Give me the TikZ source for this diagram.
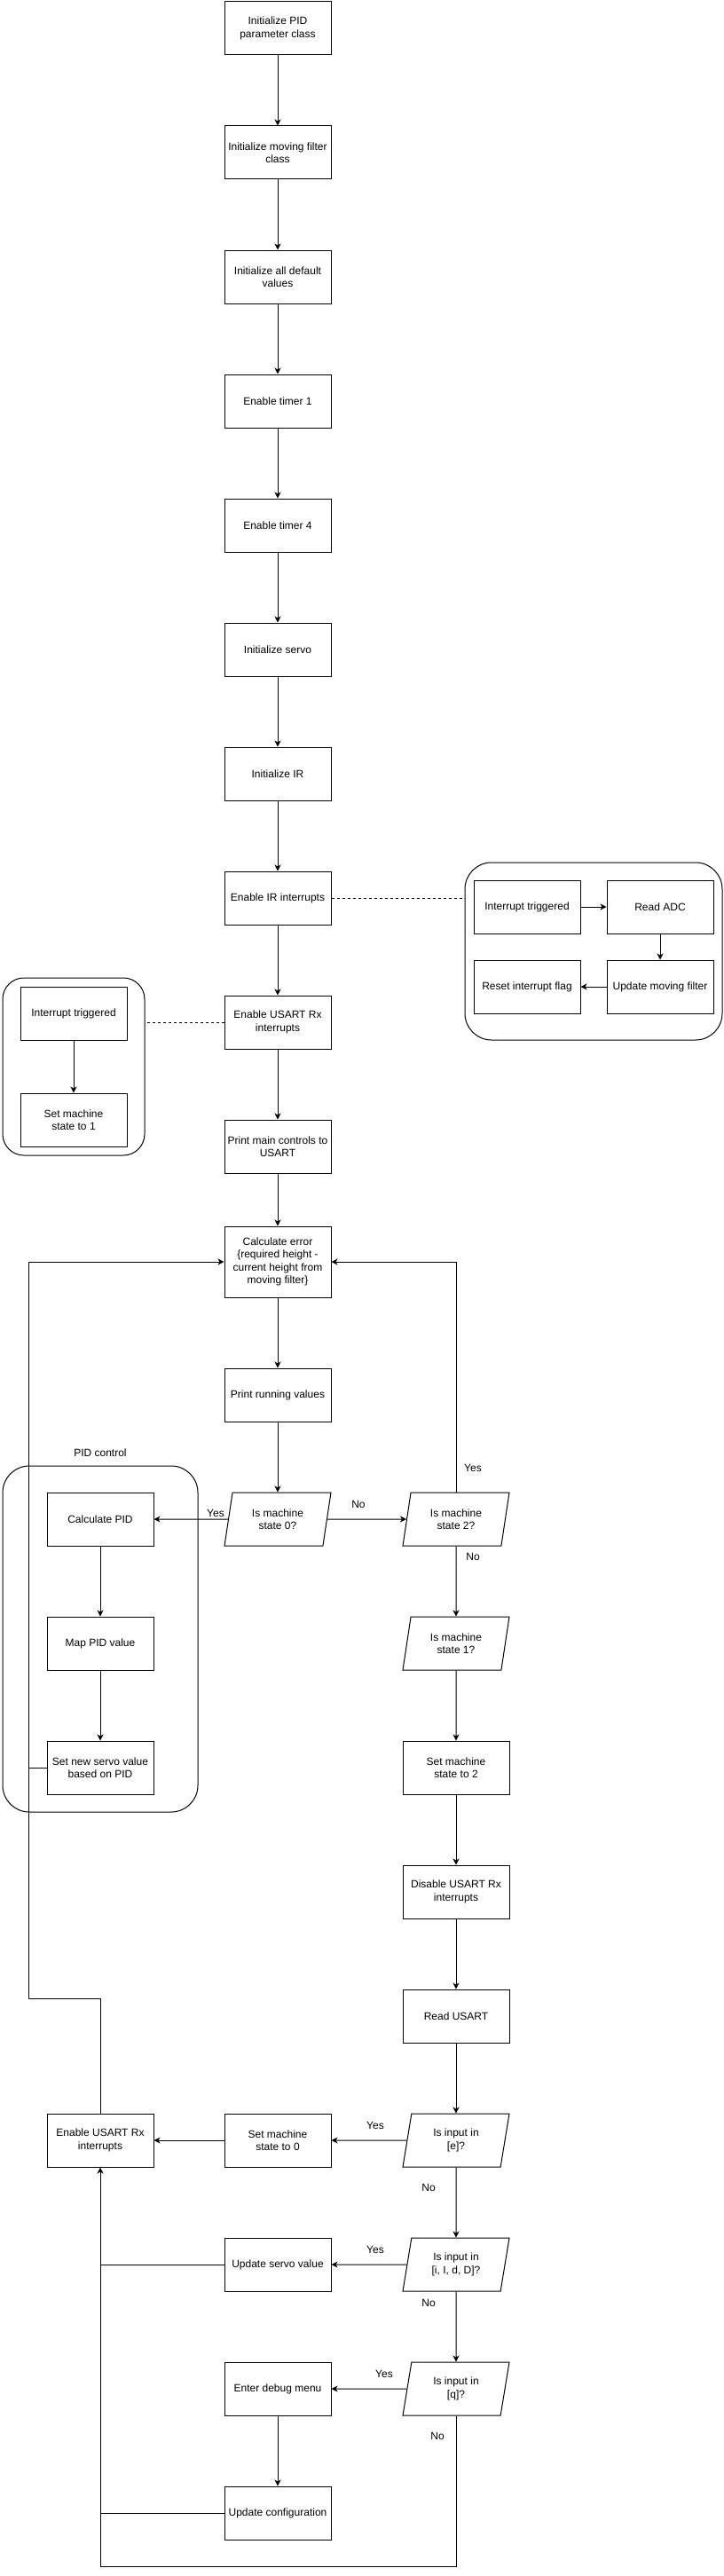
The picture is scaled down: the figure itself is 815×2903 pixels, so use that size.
\documentclass[tikz,border=0pt]{standalone}
\usepackage{fontspec}
\setmainfont{Liberation Sans}
\usetikzlibrary{arrows.meta, shapes.geometric}

\begin{document}
\begin{tikzpicture}[
    x=1pt, y=-1pt, line width=1pt,
    proc/.style={draw, minimum width=120pt, minimum height=60pt, inner sep=2pt,
                 align=center, font=\fontsize{12}{14.4}\selectfont},
    decision/.style={proc, trapezium, trapezium left angle=71.57,
                     trapezium right angle=108.43, trapezium stretches body},
    group/.style={draw, rounded corners=#1, inner sep=0pt},
    tag/.style={font=\fontsize{12}{14.4}\selectfont, inner sep=0pt},
    flow/.style={->},
    link/.style={dash pattern=on 3pt off 3pt},
    >={Stealth[length=7pt, width=7pt, inset=2pt]}
  ]
  \useasboundingbox (0,0) rectangle (815,2903);

  % Set-up sequence
  \node[proc] (initpid)  at (313, 32)   {Initialize PID\\parameter class};
  \node[proc] (initflt)  at (313, 172)  {Initialize moving filter\\class};
  \node[proc] (initdef)  at (313, 312)  {Initialize all default\\values};
  \node[proc] (timer1)   at (313, 452)  {Enable timer 1};
  \node[proc] (timer4)   at (313, 592)  {Enable timer 4};
  \node[proc] (initsrv)  at (313, 732)  {Initialize servo};
  \node[proc] (initir)   at (313, 872)  {Initialize IR};
  \node[proc] (irint)    at (313, 1012) {Enable IR interrupts};
  \node[proc] (rxint)    at (313, 1152) {Enable USART Rx\\interrupts};
  \node[proc] (printctl) at (313, 1292) {Print main controls to\\USART};

  % Main loop
  \node[proc, minimum height=80pt] (calcerr) at (313, 1422)
    {Calculate error\\\{required height -\\current height from\\moving filter\}};
  \node[proc] (printrun) at (313, 1572) {Print running values};
  \node[decision] (state0) at (313, 1712) {Is machine\\state 0?};
  \node[decision] (state2) at (514, 1712) {Is machine\\state 2?};
  \node[decision] (state1) at (514, 1852) {Is machine\\state 1?};
  \node[proc] (setstate2) at (514, 1992) {Set machine\\state to 2};
  \node[proc] (rxoff)     at (514, 2132) {Disable USART Rx\\interrupts};
  \node[proc] (readrx)    at (514, 2272) {Read USART};
  \node[decision] (inE)   at (514, 2412) {Is input in\\{}[e]?};
  \node[decision] (inPID) at (514, 2552) {Is input in\\{}[i, I, d, D]?};
  \node[decision] (inQ)   at (514, 2692) {Is input in\\{}[q]?};
  \node[proc] (setstate0) at (313, 2412) {Set machine\\state to 0};
  \node[proc] (updsrv)    at (313, 2552) {Update servo value};
  \node[proc] (debug)     at (313, 2692) {Enter debug menu};
  \node[proc] (updcfg)    at (313, 2832) {Update configuration};
  \node[proc] (rxon)      at (113, 2412) {Enable USART Rx\\interrupts};

  % PID control group
  \node[group=30pt, minimum width=220pt, minimum height=390pt] (pidbox) at (113, 1847) {};
  \node[tag] (pidtitle) at (113, 1637) {PID control};
  \node[proc] (calcpid) at (113, 1712) {Calculate PID};
  \node[proc] (mappid)  at (113, 1852) {Map PID value};
  \node[proc] (setsrv)  at (113, 1992) {Set new servo value\\based on PID};

  % IR interrupt routine
  \node[group=30pt, minimum width=290pt, minimum height=200pt] (irisr) at (669, 1072) {};
  \node[proc] (irtrig)  at (594, 1022) {Interrupt triggered};
  \node[proc] (readadc) at (744, 1022) {Read ADC};
  \node[proc] (resflag) at (594, 1112) {Reset interrupt flag};
  \node[proc] (updflt)  at (744, 1112) {Update moving filter};

  % USART interrupt routine
  \node[group=24pt, minimum width=160pt, minimum height=200pt] (rxisr) at (83, 1202) {};
  \node[proc] (rxtrig) at (83, 1142) {Interrupt triggered};
  \node[proc] (setone) at (83, 1262) {Set machine\\state to 1};

  % Connectors
  \draw[flow] (initpid) -- (initflt);
  \draw[flow] (initflt) -- (initdef);
  \draw[flow] (initdef) -- (timer1);
  \draw[flow] (timer1) -- (timer4);
  \draw[flow] (timer4) -- (initsrv);
  \draw[flow] (initsrv) -- (initir);
  \draw[flow] (initir) -- (irint);
  \draw[flow] (irint) -- (rxint);
  \draw[flow] (rxint) -- (printctl);
  \draw[flow] (printctl) -- (calcerr);
  \draw[flow] (calcerr) -- (printrun);
  \draw[flow] (printrun) -- (state0);
  \draw[flow] (state0) -- (calcpid);
  \draw[flow] (state0) -- (state2);
  \draw[flow] (state2.north) |- (calcerr.east);
  \draw[flow] (state2) -- (state1);
  \draw[flow] (state1) -- (setstate2);
  \draw[flow] (setstate2) -- (rxoff);
  \draw[flow] (rxoff) -- (readrx);
  \draw[flow] (readrx) -- (inE);
  \draw[flow] (inE) -- (setstate0);
  \draw[flow] (setstate0) -- (rxon);
  \draw[flow] (inE) -- (inPID);
  \draw[flow] (inPID) -- (updsrv);
  \draw[flow] (inPID) -- (inQ);
  \draw[flow] (inQ) -- (debug);
  \draw[flow] (debug) -- (updcfg);
  \draw[flow] (calcpid) -- (mappid);
  \draw[flow] (mappid) -- (setsrv);

  % Return paths
  \coordinate (backleft) at (32, 2252);
  \coordinate (backlow)  at (113, 2892);
  \draw[flow] (rxon.north) |- (backleft) |- (calcerr.west);
  \draw (setsrv.west) -- (setsrv.west -| backleft);
  \draw[flow] (inQ.south) |- (backlow) -- (rxon.south);
  \draw (updsrv.west) -- (updsrv.west -| backlow);
  \draw (updcfg.west) -- (updcfg.west -| backlow);

  % Interrupt routines
  \draw[flow] (irtrig) -- (readadc);
  \draw[flow] (readadc) -- (updflt);
  \draw[flow] (updflt) -- (resflag);
  \draw[flow] (rxtrig) -- (setone);
  \draw[link] (irint.east) -- (irint.east -| irisr.west);
  \draw[link] (rxint.west) -- (rxint.west -| rxisr.east);

  % Branch labels
  \node[tag] (yes0) at (243, 1705) {Yes};
  \node[tag] (no0)  at (404, 1695) {No};
  \node[tag] (yes2) at (533, 1654) {Yes};
  \node[tag] (no2)  at (533, 1754) {No};
  \node[tag] (yesE) at (423, 2395) {Yes};
  \node[tag] (noE)  at (483, 2465) {No};
  \node[tag] (yesP) at (423, 2535) {Yes};
  \node[tag] (noP)  at (483, 2595) {No};
  \node[tag] (yesQ) at (433, 2675) {Yes};
  \node[tag] (noQ)  at (493, 2745) {No};
\end{tikzpicture}
\end{document}
